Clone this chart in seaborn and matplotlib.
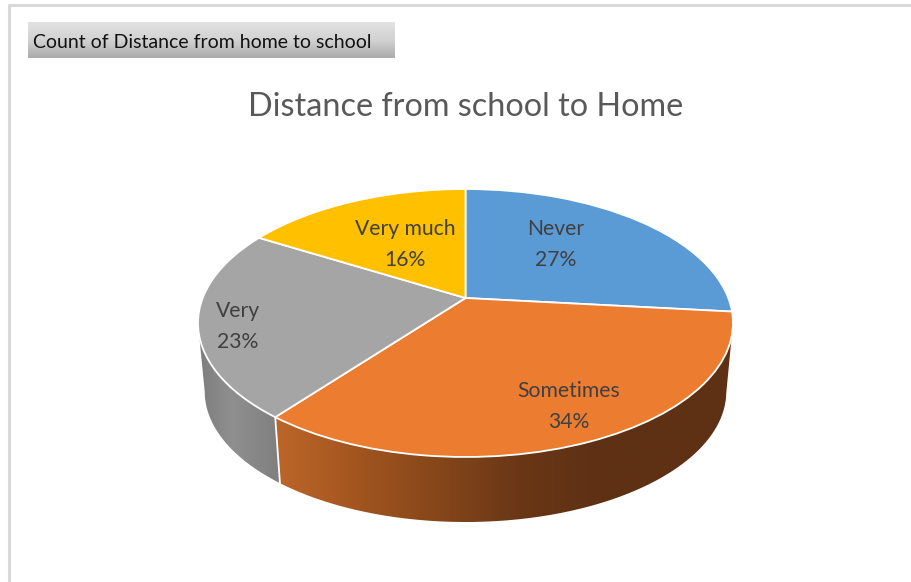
import numpy as np
import matplotlib
matplotlib.use("Agg")
import matplotlib.pyplot as plt
from matplotlib.transforms import Transform
from matplotlib.path import Path
from matplotlib.colors import LinearSegmentedColormap
from matplotlib.lines import Line2D
import seaborn as sns

categories = ["Never", "Sometimes", "Very", "Very much"]
values = [26.64, 33.96, 22.91, 16.49]
chart_title = "Distance from school to Home"
field_label = "Count of Distance from home to school"

sns.set_theme(style="white")
plt.rcParams["font.family"] = ["Lato", "DejaVu Sans"]
palette = sns.color_palette(["#5B9BD5", "#EC7C30", "#A5A5A5", "#FFC000"])
TXT = "#404040"

W, H = 912, 582
fig = plt.figure(figsize=(W / 100, H / 100), dpi=100, facecolor="white")
ax = fig.add_axes([0, 0, 1, 1])

# perspective view of the unit-circle pie, in pixel coordinates
APEX_X, APEX_Y, A, B, K = 465.5, 298.0, 262.8, 129.3, 0.1866


def project(x, y):
    w = 1 + K * y
    return APEX_X + A * x / w, APEX_Y - B * y / w


class Perspective(Transform):
    input_dims = output_dims = 2
    is_affine = False
    has_inverse = False

    def transform_non_affine(self, values):
        values = np.asarray(values, dtype=float)
        px, py = project(values[:, 0], values[:, 1])
        return np.column_stack([px, py])


wedges, _ = ax.pie(values, colors=palette, startangle=90, counterclock=False,
                   wedgeprops=dict(edgecolor="white", linewidth=1.3))
ax.set_aspect("auto")
persp = Perspective()
for w in wedges:
    w.set_transform(persp + ax.transData)
    w.set_zorder(5)

# side wall: the rim swept to a slightly smaller, lower copy
CY, SCALE, DROP_CY = 323.0, 0.975, 391.4
orange_side = LinearSegmentedColormap.from_list(
    "o", [(0, "#BC6629"), (0.175, "#A2551F"), (0.35, "#85461A"), (0.525, "#6A3716"),
          (0.7, "#5E3014"), (1, "#5E3014")])
gray_side = LinearSegmentedColormap.from_list(
    "g", [(0, "#7C7C7C"), (0.4, "#8F8F8F"), (1, "#7E7E7E")])


def lower(px, py):
    return APEX_X + (px - APEX_X) * SCALE, DROP_CY + (py - CY) * SCALE


def rim(t1, t2):
    th = np.radians(np.linspace(t1, t2, 300))
    return project(np.cos(th), np.sin(th))


def draw_wall(wedge, cmap, x0, x1, side):
    tx, ty = rim(wedge.theta1, wedge.theta2)
    # keep the rim between the silhouette tangent and the seam facing the viewer
    if side == "left":
        i = int(np.argmin(tx))
        tx, ty = tx[i:], ty[i:]
    else:
        i = int(np.argmax(tx))
        tx, ty = tx[:i + 1], ty[:i + 1]
    bx, by = lower(tx, ty)
    outline = np.column_stack([np.r_[tx, bx[::-1]], np.r_[ty, by[::-1]]])
    xs = np.linspace(0, 1, 256).reshape(1, -1)
    im = ax.imshow(xs, extent=[x0, x1, 540, 290], aspect="auto", cmap=cmap, zorder=3)
    im.set_clip_path(Path(np.vstack([outline, outline[:1]])), transform=ax.transData)


draw_wall(wedges[2], gray_side, 196, 285, "left")
draw_wall(wedges[1], orange_side, 276, 740, "right")

# white seam between the two wall faces
sx, sy = project(np.cos(np.radians(wedges[1].theta1)), np.sin(np.radians(wedges[1].theta1)))
ex, ey = lower(sx, sy)
ax.add_line(Line2D([sx, ex], [sy, ey], color="white", lw=1.3, zorder=4))

# data labels
label_xy = [(556, 229), (569, 391), (238, 311), (405, 229)]
for cat, val, (lx, ly) in zip(categories, values, label_xy):
    ax.text(lx, ly, cat, ha="center", va="center", fontsize=15.2, color=TXT, zorder=8)
    ax.text(lx, ly + 30.5, f"{round(val)}%", ha="center", va="center", fontsize=15.2, color=TXT, zorder=8)

# title
ax.text(466, 106.5, chart_title, ha="center", va="center", fontsize=23.3, color="#595959", zorder=8)

# field button
grad = np.linspace(0, 1, 64).reshape(-1, 1)
btn = LinearSegmentedColormap.from_list("b", ["#E2E2E2", "#D2D2D2", "#ABABAB"])
ax.imshow(grad, extent=[28, 395, 58, 22], aspect="auto", cmap=btn, zorder=2)
ax.text(33, 42, field_label, ha="left", va="center", fontsize=14, color="#111111", zorder=8)

# chart frame
ax.add_line(Line2D([9, 9, W], [H, 5, 5], color="#D9D9D9", lw=2.2, zorder=1))

ax.set_xlim(0, W)
ax.set_ylim(H, 0)
ax.set_aspect("auto")
fig.savefig("out.png", dpi=100, facecolor="white")
